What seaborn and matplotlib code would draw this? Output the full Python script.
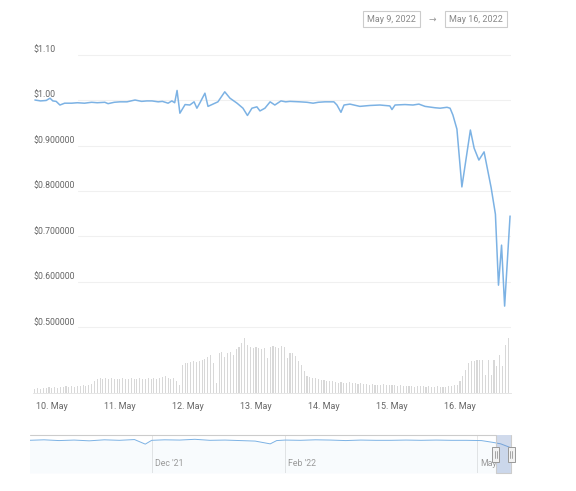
import pandas as pd
import matplotlib
matplotlib.use("Agg")
import matplotlib.pyplot as plt
import matplotlib.dates as mdates
import matplotlib.transforms as mtransforms
from matplotlib.patches import Rectangle
import seaborn as sns

W, H = 576, 491

# --- data ---
price_times = [
    "2022-05-09 18:00", "2022-05-09 20:00", "2022-05-09 22:00", "2022-05-09 23:20",
    "2022-05-10 00:20", "2022-05-10 01:30", "2022-05-10 02:50", "2022-05-10 04:30",
    "2022-05-10 07:00", "2022-05-10 09:00", "2022-05-10 11:30", "2022-05-10 14:00",
    "2022-05-10 16:00", "2022-05-10 18:40", "2022-05-10 19:50", "2022-05-10 22:00",
    "2022-05-11 00:00", "2022-05-11 02:30", "2022-05-11 05:20", "2022-05-11 07:40",
    "2022-05-11 09:30", "2022-05-11 11:20", "2022-05-11 13:30", "2022-05-11 15:00",
    "2022-05-11 17:00", "2022-05-11 18:20", "2022-05-11 19:20", "2022-05-11 20:10",
    "2022-05-11 21:10", "2022-05-11 23:00", "2022-05-12 00:40", "2022-05-12 02:10",
    "2022-05-12 03:10", "2022-05-12 04:15", "2022-05-12 06:00", "2022-05-12 07:05",
    "2022-05-12 08:50", "2022-05-12 10:35", "2022-05-12 13:00", "2022-05-12 14:50",
    "2022-05-12 17:20", "2022-05-12 19:25", "2022-05-12 21:00", "2022-05-12 22:35",
    "2022-05-13 00:20", "2022-05-13 01:25", "2022-05-13 03:10", "2022-05-13 05:00",
    "2022-05-13 06:40", "2022-05-13 08:50", "2022-05-13 10:30", "2022-05-13 12:00",
    "2022-05-13 15:30", "2022-05-13 18:00", "2022-05-13 20:10", "2022-05-13 22:00",
    "2022-05-14 00:20", "2022-05-14 03:30", "2022-05-14 04:35", "2022-05-14 06:00",
    "2022-05-14 07:05", "2022-05-14 09:10", "2022-05-14 12:40", "2022-05-14 16:15",
    "2022-05-14 19:45", "2022-05-14 23:15", "2022-05-15 00:00", "2022-05-15 01:05",
    "2022-05-15 04:35", "2022-05-15 07:25", "2022-05-15 09:30", "2022-05-15 11:40",
    "2022-05-15 15:10", "2022-05-15 17:00", "2022-05-15 19:25", "2022-05-15 20:30",
    "2022-05-15 21:30", "2022-05-15 22:55", "2022-05-16 00:40", "2022-05-16 03:40",
    "2022-05-16 05:00", "2022-05-16 06:40", "2022-05-16 08:30", "2022-05-16 11:00",
    "2022-05-16 12:30", "2022-05-16 13:35", "2022-05-16 14:40", "2022-05-16 15:45",
    "2022-05-16 17:40",
]
price_values = [
    1.000, 0.998, 0.999, 1.004,
    0.998, 0.997, 0.989, 0.993,
    0.993, 0.994, 0.993, 0.995,
    0.994, 0.995, 0.992, 0.995,
    0.996, 0.996, 1.000, 0.997,
    0.998, 0.998, 0.996, 0.997,
    0.993, 0.998, 0.994, 1.021,
    0.971, 0.990, 0.989, 0.996,
    0.982, 0.994, 1.015, 0.986,
    0.991, 0.996, 1.018, 1.004,
    0.993, 0.982, 0.966, 0.982,
    0.985, 0.976, 0.982, 0.996,
    0.989, 0.998, 0.996, 0.997,
    0.996, 0.995, 0.993, 0.995,
    0.996, 0.996, 0.989, 0.973,
    0.989, 0.991, 0.986, 0.988,
    0.989, 0.987, 0.979, 0.989,
    0.990, 0.989, 0.991, 0.986,
    0.983, 0.982, 0.984, 0.982,
    0.967, 0.936, 0.809, 0.934,
    0.894, 0.868, 0.886, 0.807,
    0.749, 0.593, 0.681, 0.547,
    0.745,
]

# hourly volume bars (relative heights), first bar 9 May 18:00
volume_start = "2022-05-09 18:00"
volume_values = [
    4, 5, 4, 5, 5, 6,
    5, 6, 5, 6, 6, 7, 6, 7, 6, 7, 7, 8, 7, 8, 9, 12, 14, 15, 14, 15, 14, 15, 14, 14,
    14, 15, 14, 14, 15, 14, 14, 15, 14, 14, 15, 14, 15, 14, 15, 16, 17, 15, 14, 15, 12, 8, 28, 30,
    30, 31, 32, 31, 32, 33, 34, 36, 38, 30, 10, 40, 41, 36, 40, 41, 38, 44, 46, 50, 55, 48, 46, 45,
    46, 45, 44, 45, 35, 46, 47, 46, 45, 47, 46, 35, 40, 40, 37, 32, 28, 22, 17, 16, 15, 15, 14, 13,
    13, 12, 12, 12, 11, 10, 11, 10, 10, 11, 10, 10, 9, 10, 9, 9, 8, 9, 8, 8, 8, 9, 8, 8,
    8, 8, 7, 8, 7, 7, 7, 7, 6, 7, 7, 7, 6, 7, 6, 6, 7, 6, 6, 6, 7, 7, 8, 8,
    12, 17, 23, 30, 32, 32, 33, 33, 33, 18, 33, 18, 33, 27, 38, 27, 48, 55,
]

ytick_values = [1.10, 1.00, 0.90, 0.80, 0.70, 0.60, 0.50]
ytick_labels = ["$1.10", "$1.00", "$0.900000", "$0.800000", "$0.700000", "$0.600000", "$0.500000"]
xtick_days = ["2022-05-10", "2022-05-11", "2022-05-12", "2022-05-13",
              "2022-05-14", "2022-05-15", "2022-05-16"]
xtick_labels = ["10. May", "11. May", "12. May", "13. May", "14. May", "15. May", "16. May"]

nav_dates = [
    "2021-10-05", "2021-10-12", "2021-10-19", "2021-10-26", "2021-11-02", "2021-11-09",
    "2021-11-16", "2021-11-23", "2021-11-28", "2021-12-01", "2021-12-07", "2021-12-14",
    "2021-12-21", "2021-12-28", "2022-01-04", "2022-01-11", "2022-01-18", "2022-01-25",
    "2022-01-28", "2022-02-01", "2022-02-08", "2022-02-15", "2022-02-22", "2022-03-01",
    "2022-03-08", "2022-03-15", "2022-03-22", "2022-03-29", "2022-04-05", "2022-04-12",
    "2022-04-19", "2022-04-26", "2022-05-03", "2022-05-09", "2022-05-12", "2022-05-16",
]
nav_values = [
    0.999, 1.001, 0.998, 1.000, 0.997, 1.001,
    0.999, 1.002, 0.984, 0.999, 1.001, 1.000,
    1.003, 0.999, 1.000, 0.998, 0.996, 0.985,
    0.998, 1.000, 0.999, 1.001, 1.000, 0.998,
    1.000, 0.999, 0.999, 1.000, 0.999, 1.000,
    0.999, 0.999, 0.998, 0.990, 0.985, 0.972,
]
nav_ticks = ["2021-12-01", "2022-02-01", "2022-05-01"]
nav_tick_labels = ["Dec '21", "Feb '22", "May"]
range_labels = ["May 9, 2022", "May 16, 2022"]

price = pd.DataFrame({"time": pd.to_datetime(price_times), "price": price_values})
vol = pd.DataFrame({"time": pd.date_range(volume_start, periods=len(volume_values), freq="h"),
                    "volume": volume_values})
nav = pd.DataFrame({"date": pd.to_datetime(nav_dates), "price": nav_values})

LINE = "#7cb2e4"
TEXT = "#666666"

sns.set_style("white")
plt.rcParams["font.family"] = ["Roboto", "DejaVu Sans"]


def rect(x0, y0, x1, y1):
    # pixel box (top-left origin) -> figure fraction
    return [x0 / W, 1 - y1 / H, (x1 - x0) / W, (y1 - y0) / H]


fig = plt.figure(figsize=(W / 100, H / 100), dpi=100)

# volume pane underneath the price pane
ax_vol = fig.add_axes(rect(33, 40, 511, 393))
ax = fig.add_axes(rect(33, 40, 511, 393), sharex=ax_vol)
ax.patch.set_visible(False)

xlim = (pd.Timestamp("2022-05-09 17:20"), pd.Timestamp("2022-05-16 18:00"))

ax_vol.bar(vol["time"], vol["volume"], width=0.4 / 24, color="#d8d8d8", linewidth=0)
ax_vol.set_ylim(0, 353)
ax_vol.axis("off")

for v in ytick_values:
    ax.axhline(v, xmin=(78 - 33) / 478, color="#f0f0f0", lw=0.8, zorder=0)
for v, lbl in zip(ytick_values, ytick_labels):
    ax.annotate(lbl, xy=(0, v), xycoords=("axes fraction", "data"), xytext=(0, 5),
                textcoords="offset pixels", ha="left", va="center", fontsize=6.3, color=TEXT)

sns.lineplot(data=price, x="time", y="price", ax=ax, color=LINE, linewidth=1.1, zorder=3)
ax.set_ylim(0.356, 1.1319)
ax.set_xlim(*xlim)
ax.set_yticks([])
ax.set_xticks(pd.to_datetime(xtick_days))
ax.set_xticklabels(xtick_labels)
ax.tick_params(axis="x", length=3.5, width=0.7, color="#ccd6eb", labelcolor=TEXT,
               labelsize=6.5, pad=3)
ax.set_xlabel("")
ax.set_ylabel("")
for s in ["top", "left", "right"]:
    ax.spines[s].set_visible(False)
ax.spines["bottom"].set_color("#e6e6e6")
ax.spines["bottom"].set_linewidth(0.7)

# navigator
nav_ax = fig.add_axes(rect(30, 435, 511, 473))
nav_ax.set_xlim(pd.Timestamp("2021-10-05 12:00"), pd.Timestamp("2022-05-16 18:00"))
nav_ax.set_ylim(0.87, 1.02)
for d in pd.to_datetime(nav_ticks):
    nav_ax.axvline(d, color="#e6e6e6", lw=0.7, zorder=0)
for d, lbl in zip(pd.to_datetime(nav_ticks), nav_tick_labels):
    nav_ax.annotate(lbl, xy=(d, 0), xycoords=("data", "axes fraction"), xytext=(3, 9),
                    textcoords="offset pixels", ha="left", va="center", fontsize=6.3,
                    color="#999999")
nav_ax.fill_between(nav["date"], nav["price"], 0.87, color=LINE, alpha=0.05, lw=0)
sns.lineplot(data=nav, x="date", y="price", ax=nav_ax, color=LINE, linewidth=0.7)
nav_ax.set_xticks([])
nav_ax.set_yticks([])
nav_ax.set_xlabel("")
nav_ax.set_ylabel("")
for s in nav_ax.spines.values():
    s.set_visible(False)

# selected range mask, outline and handles
blend = mtransforms.blended_transform_factory(nav_ax.transData, nav_ax.transAxes)
sel0, sel1 = [mdates.date2num(t) for t in xlim]
x_left, x_right = nav_ax.get_xlim()
nav_ax.add_patch(Rectangle((sel0, 0), sel1 - sel0, 1, transform=blend,
                           facecolor=(102 / 255, 133 / 255, 194 / 255, 0.3), lw=0, zorder=4))
nav_ax.plot([x_left, sel0, sel0, sel1, sel1, x_right], [1, 1, 0, 0, 1, 1],
            transform=blend, color="#cccccc", lw=0.8, clip_on=False, zorder=5)
px_day = 481 / (x_right - x_left)
hw = 3.5 / px_day
for xe in (sel0, sel1):
    nav_ax.add_patch(Rectangle((xe - hw, 0.5 - 7.5 / 38), 2 * hw, 15 / 38, transform=blend,
                               facecolor="#f2f2f2", edgecolor="#999999", lw=0.7,
                               clip_on=False, zorder=6))
    for off in (-0.8, 0.8):
        nav_ax.plot([xe + off / px_day] * 2, [0.5 - 3.5 / 38, 0.5 + 3.5 / 38],
                    transform=blend, color="#999999", lw=0.6, clip_on=False, zorder=7)

# range selector boxes
box = dict(boxstyle="square,pad=0.4", fc="white", ec="#cccccc", lw=0.8)
fig.text(391.5 / W, 1 - 19 / H, range_labels[0], ha="center", va="center",
         fontsize=6.5, color="#888888", bbox=box)
fig.text(432 / W, 1 - 19 / H, "\u2192", ha="center", va="center", fontsize=6.5, color="#999999")
fig.text(476 / W, 1 - 19 / H, range_labels[1], ha="center", va="center",
         fontsize=6.5, color="#888888", bbox=box)

fig.savefig("out.png", dpi=100)
